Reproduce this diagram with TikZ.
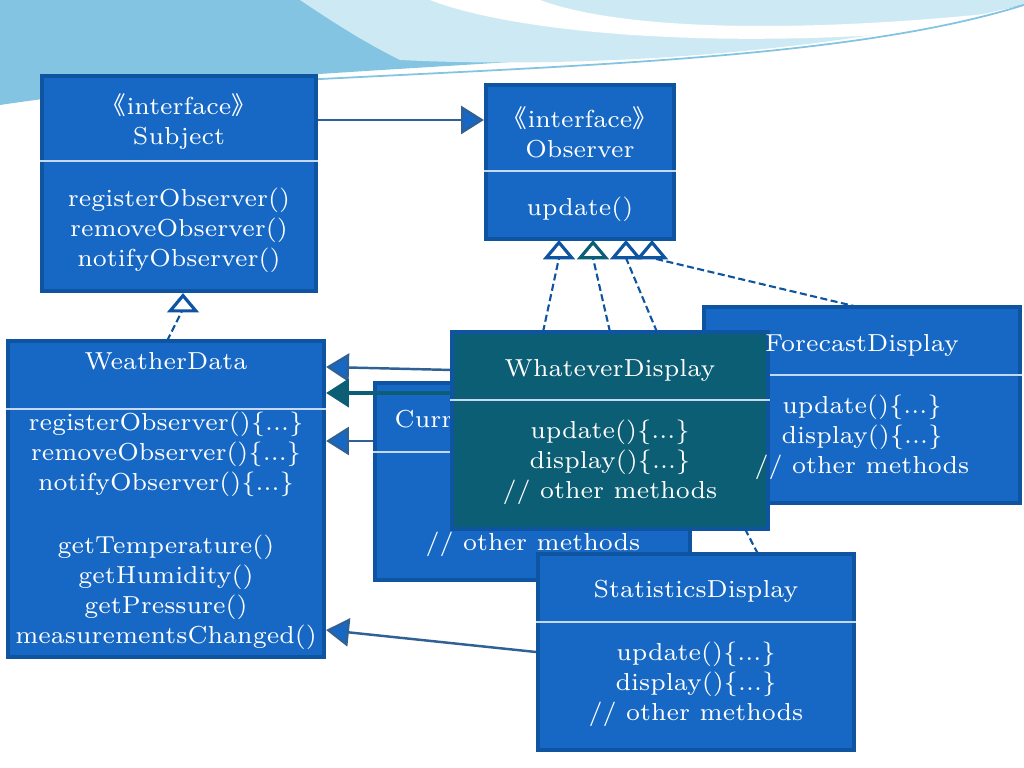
\documentclass[tikz,border=0pt]{standalone}
\usepackage{fontspec}
\newfontfamily\cjk{Noto Sans CJK SC}
\usetikzlibrary{arrows.meta,calc}
\definecolor{boxblue}{RGB}{22,104,196}
\definecolor{boxline}{RGB}{14,84,160}
\definecolor{boxteal}{RGB}{12,94,116}
\definecolor{skyA}{RGB}{130,196,226}
\definecolor{skyB}{RGB}{205,234,244}
\newcommand{\umlbox}[7]{%
  \node[box, fill=#7, minimum width={(#4-#2)*0.01cm}, minimum height={(#5-#3)*0.01cm}]
    (#1) at ({(#2+#4)/2},{(#3+#5)/2}) {};
  \draw[divline] (#1.west |- 0,#6) -- (#1.east |- 0,#6);}
\begin{document}
\begin{tikzpicture}[
x=0.01cm, y=-0.01cm,
box/.style={draw=boxline, line width=1.2pt, inner sep=0pt},
divline/.style={draw=white!75!boxblue, line width=0.6pt},
txt/.style={text=white, align=center, font=\fontsize{7}{8.55}\selectfont, inner sep=0pt},
real/.style={dashed, dash pattern=on 2pt off 1pt, draw=boxline, line width=0.6pt},
open/.style={-{Triangle[open, length=5.5pt, width=9pt, fill=white]}, line width=0.9pt},
assoc/.style={draw=boxline!70!gray, line width=0.7pt, -{Triangle[length=6.5pt, width=8pt, fill=boxblue]}}
]
\useasboundingbox (0,0) rectangle (1024,768);
%Header
\fill[skyA] (0,0) -- (1024,0) -- (1024,5) .. controls (700,70) and (300,60) .. (0,105) -- cycle;
\fill[skyB] (300,0) -- (1024,0) -- (1024,4) .. controls (850,50) and (600,70) .. (400,60) .. controls (360,40) and (330,20) .. (300,0) -- cycle;
\fill[white] (430,0) .. controls (520,35) and (750,55) .. (1024,22) -- (1024,10) .. controls (800,35) and (620,30) .. (540,0) -- cycle;
\draw[white, line width=0.8pt] (0,112) .. controls (300,65) and (700,80) .. (1024,20);
\draw[skyA, line width=0.5pt] (0,100) .. controls (400,65) and (800,75) .. (1024,5);
%Boxes
\umlbox{subj}{42}{76}{316}{291}{161}{boxblue}
\umlbox{obs}{486}{85}{674}{239}{171}{boxblue}
\coordinate (o1) at (559,258);
\coordinate (o2) at (593,258);
\coordinate (o3) at (626,258);
\coordinate (o4) at (652,258);
\draw[real] (858,307) -- (o4);
\draw[open, draw=boxline] (o4) -- (652,240);
\draw[open, draw=boxline] (o3) -- (626,240);
\draw[open, draw=boxteal] (o2) -- (593,240);
\draw[open, draw=boxline] (o1) -- (559,240);
\umlbox{wd}{8}{341}{324}{657}{409}{boxblue}
\draw[real] (167,341) -- (183,309);
\draw[open, draw=boxline] (183,309) -- (subj.south -| 183,0);
\draw[assoc] (subj.east |- 0,120) -- (obs.west |- 0,120);
\umlbox{fc}{704}{307}{1020}{503}{375}{boxblue}
\umlbox{cc}{375}{383}{690}{580}{452}{boxblue}
\node[txt, anchor=west] at (394,421) {CurrentConditionsDisplay};
\node[txt] at (533,544) {// other methods};
\draw[real] (610,332) -- (o2);
\draw[real] (657,332) -- (o3);
\draw[real] (543,332) -- (o1);
\draw[assoc] (cc.west |- 0,441) -- (wd.east |- 0,441);
\draw[assoc] (452,370) -- (wd.east |- 0,367);
\draw[assoc, draw=boxteal, -{Triangle[length=6.5pt, width=8pt, fill=boxteal]}, line width=1.2pt] (452,393) -- (wd.east |- 0,393);
\umlbox{wh}{452}{332}{768}{529}{400}{boxteal}
\draw[real] (745,529) -- (758,554);
\umlbox{st}{538}{554}{854}{750}{622}{boxblue}
\draw[assoc] (st.west |- 0,652) -- (wd.east |- 0,630);
%Texts
\node[txt] at (179,122) {{\cjk 《}interface{\cjk 》}\\Subject};
\node[txt] at (179,230) {registerObserver()\\removeObserver()\\notifyObserver()};
\node[txt] at (580,132) {{\cjk 《}interface{\cjk 》}\\Observer};
\node[txt] at (580,209) {update()};
\node[txt] at (166,361) {WeatherData};
\node[txt] at (166,454) {registerObserver()\{...\}\\removeObserver()\{...\}\\notifyObserver()\{...\}};
\node[txt] at (166,592) {getTemperature()\\getHumidity()\\getPressure()\\measurementsChanged()};
\node[txt] at (862,345) {ForecastDisplay};
\node[txt] at (862,437) {update()\{...\}\\display()\{...\}\\// other methods};
\node[txt] at (610,370) {WhateverDisplay};
\node[txt] at (610,462) {update()\{...\}\\display()\{...\}\\// other methods};
\node[txt] at (696,591) {StatisticsDisplay};
\node[txt] at (696,684) {update()\{...\}\\display()\{...\}\\// other methods};
\end{tikzpicture}
\end{document}
